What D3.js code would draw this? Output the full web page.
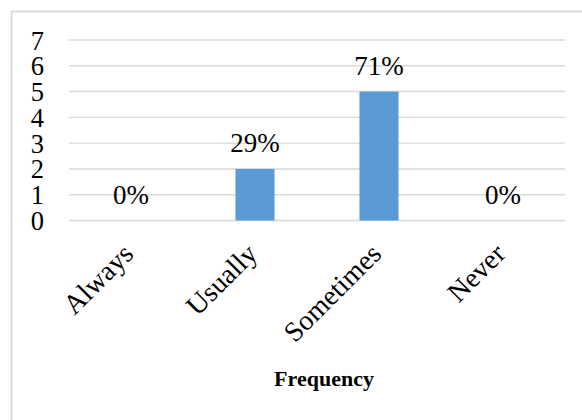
<!DOCTYPE html>
<html>
<head>
<meta charset="utf-8">
<script src="https://cdn.jsdelivr.net/npm/d3@7"></script>
<style>
  html, body { margin: 0; padding: 0; background: #fff; }
  svg { display: block; }
  text { font-family: "Times New Roman", "Liberation Serif", serif; fill: #000; }
</style>
</head>
<body>
<svg id="chart" width="582" height="420"></svg>
<script>
// Responses per frequency category
const categories = ["Always", "Usually", "Sometimes", "Never"];
const counts = [0, 2, 5, 0];
const percentLabels = ["0%", "29%", "71%", "0%"];
const yTicks = [0, 1, 2, 3, 4, 5, 6, 7];
const axisTitle = "Frequency";

const svg = d3.select("#chart");
const W = 582, H = 420;
const plot = { left: 69, right: 565, top: 40, bottom: 220.5 };

// Outer chart frame (runs off the right and bottom edges)
svg.append("rect")
  .attr("x", 11.5).attr("y", 11.5)
  .attr("width", W + 20).attr("height", H + 20)
  .attr("fill", "none").attr("stroke", "#d9d9d9").attr("stroke-width", 1.8);

const x = d3.scaleBand().domain(categories)
  .range([plot.left, plot.right]).paddingInner(0.685).paddingOuter(0.3425);
const y = d3.scaleLinear().domain([0, 7]).range([plot.bottom, plot.top]);

// Gridlines
svg.append("g").selectAll("line").data(yTicks).join("line")
  .attr("x1", plot.left).attr("x2", plot.right)
  .attr("y1", d => y(d)).attr("y2", d => y(d))
  .attr("stroke", "#d9d9d9").attr("stroke-width", 1.4);

// Y axis tick labels
const yAxis = d3.axisLeft(y).tickValues(yTicks).tickFormat(d3.format("d"))
  .tickSize(0).tickPadding(0);
const gy = svg.append("g").attr("transform", "translate(44,0)").call(yAxis);
gy.select(".domain").remove();
gy.selectAll("text")
  .attr("dy", "0.34em")
  .style("font-family", '"Times New Roman", "Liberation Serif", serif')
  .style("font-size", "26.5px").attr("fill", "#000");

// Bars
const data = categories.map((c, i) => ({ c, v: counts[i], label: percentLabels[i] }));
svg.append("g").selectAll("rect").data(data).join("rect")
  .attr("x", d => x(d.c)).attr("width", x.bandwidth())
  .attr("y", d => y(d.v)).attr("height", d => y(0) - y(d.v))
  .attr("fill", "#5b9bd5");

// Data labels
svg.append("g").selectAll("text").data(data).join("text")
  .attr("x", d => x(d.c) + x.bandwidth() / 2)
  .attr("y", d => y(d.v) - 17)
  .attr("text-anchor", "middle")
  .style("font-size", "27px")
  .text(d => d.label);

// Rotated category labels
const xAxis = d3.axisBottom(x).tickSize(0).tickPadding(0);
const gx = svg.append("g").attr("transform", `translate(0,${plot.bottom})`).call(xAxis);
gx.select(".domain").remove();
gx.selectAll("text")
  .style("font-family", '"Times New Roman", "Liberation Serif", serif')
  .style("font-size", "28px").attr("fill", "#000")
  .attr("text-anchor", "end")
  .attr("dy", 0)
  .attr("transform", "translate(4,35) rotate(-45)");

// Axis title
svg.append("text")
  .attr("x", (plot.left + plot.right) / 2 + 7)
  .attr("y", 386)
  .attr("text-anchor", "middle")
  .style("font-size", "22px").style("font-weight", "bold")
  .text(axisTitle);
</script>
</body>
</html>
